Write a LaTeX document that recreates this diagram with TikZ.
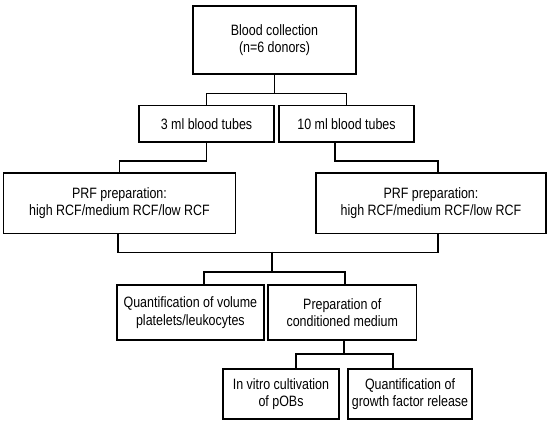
\documentclass[tikz,border=0pt]{standalone}
\usepackage{fontspec}
\setmainfont[FakeStretch=0.83]{Liberation Sans}
\begin{document}
\begin{tikzpicture}[x=1pt,y=-1pt,
  box/.style={draw, line width=1.7pt, rectangle, inner sep=0pt, align=center,
    font=\fontsize{15}{17.5}\selectfont},
  conn/.style={draw, line width=1.7pt}]
\useasboundingbox (0,0) rectangle (550,426);
\node[box, minimum width=163pt, minimum height=68pt] (top) at (274.5,40) {Blood collection\\(n=6 donors)};
\node[box, minimum width=135pt, minimum height=36.5pt] (t3) at (206.5,123.8) {3 ml blood tubes};
\node[box, minimum width=135pt, minimum height=36.5pt] (t10) at (346.5,123.8) {10 ml blood tubes};
\node[box, minimum width=232pt, minimum height=60.8pt] (prfL) at (119.5,203.1) {PRF preparation:\\high RCF/medium RCF/low RCF};
\node[box, minimum width=230pt, minimum height=60.8pt] (prfR) at (431,203.1) {PRF preparation:\\high RCF/medium RCF/low RCF};
\node[box, minimum width=147.3pt, minimum height=55pt] (quant) at (190.4,312.5) {Quantification of volume\\platelets/leukocytes};
\node[box, minimum width=148.5pt, minimum height=55pt] (prep) at (342.3,312.5) {Preparation of\\conditioned medium};
\node[box, minimum width=116pt, minimum height=50pt] (vitro) at (281,394.3) {In vitro cultivation\\of pOBs};
\node[box, minimum width=123.5pt, minimum height=50pt] (gf) at (410,394.3) {Quantification of\\growth factor release};

\draw[conn] (top.south) -- ++(0,18.5) coordinate (j1);
\draw[conn] (t3.north) |- (j1) -| (t10.north);
\draw[conn] (t3.south) -- ++(0,18) -| (prfL.north);
\draw[conn] ([xshift=-11.5pt]t10.south) -- ++(0,18) -| ([xshift=7pt]prfR.north);
\draw[conn] ([xshift=-1.5pt]prfL.south) -- ++(0,18.2) coordinate (j2) -| ([xshift=7pt]prfR.south);
\coordinate (j3) at (272,251.7);
\draw[conn] (j3) -- ++(0,20) coordinate (j4);
\draw[conn] ([xshift=13.6pt]quant.north) |- (j4) -| ([xshift=2.5pt]prep.north);
\draw[conn] ([xshift=1.7pt]prep.south) -- ++(0,13.3) coordinate (j5);
\draw[conn] ([xshift=14.7pt]vitro.north) |- (j5) -| ([xshift=-16.7pt]gf.north);
\end{tikzpicture}
\end{document}
